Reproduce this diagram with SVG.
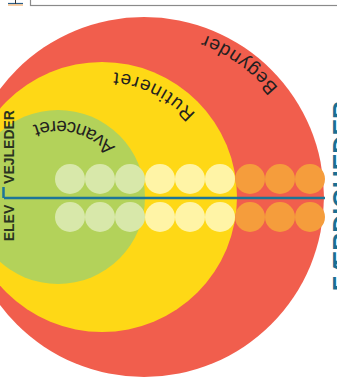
<svg xmlns="http://www.w3.org/2000/svg" width="337" height="378" viewBox="0 0 337 378">
<style>
.lbl{font-family:"Liberation Sans",Arial,sans-serif;font-size:19px;fill:#231f20}
.axis{font-family:"Liberation Sans",Arial,sans-serif;font-weight:bold;font-size:14px;fill:#2a3320}
.big{font-family:"Liberation Sans",Arial,sans-serif;font-weight:bold;font-size:25px;fill:#1b6f92}
.dg{fill:#d8e8aa}
.dy{fill:#fff4a6}
.do{fill:#f59d3c}
.ax{stroke:#1c7598;stroke-width:2.5;fill:none}
</style>
<defs>
<path id="pA" d="M133.77,202.96 A76,76 0 0 0 -11.16,165.5"/>
<path id="pR" d="M221.9,232.5 A125,125 0 0 0 1.5,122.6"/>
<path id="pB" d="M316.2,213.3 A173,173 0 0 0 72,39.6"/>
</defs>
<rect width="337" height="378" fill="#ffffff"/>
<g id="header">
<rect x="30.5" y="-10" width="320" height="15.5" fill="#ffffff" stroke="#8a8a8a" stroke-width="1.2"/>
<line x1="8" y1="3.5" x2="23" y2="3.5" stroke="#2b5f8a" stroke-width="1.2"/>
<line x1="8" y1="5" x2="23" y2="5" stroke="#f0a050" stroke-width="1"/>
<line x1="15.5" y1="0" x2="15.5" y2="4" stroke="#333333" stroke-width="1"/>
</g>
<g id="begynder">
<circle cx="144" cy="197" r="180" fill="#f15e4d"/>
<text class="lbl" letter-spacing="1.5"><textPath href="#pB" startOffset="50%" text-anchor="middle">Begynder</textPath></text>
</g>
<g id="rutineret">
<circle cx="102" cy="197" r="135" fill="#fed816"/>
<text class="lbl" letter-spacing="2"><textPath href="#pR" startOffset="50%" text-anchor="middle">Rutineret</textPath></text>
</g>
<g id="avanceret">
<circle cx="58" cy="197" r="87" fill="#b3d25a"/>
<text class="lbl" letter-spacing="0.7"><textPath href="#pA" startOffset="50%" text-anchor="middle">Avanceret</textPath></text>
</g>
<g id="dots">
<circle class="dg" cx="70" cy="179" r="15"/><circle class="dg" cx="100" cy="179" r="15"/><circle class="dg" cx="130" cy="179" r="15"/>
<circle class="dy" cx="160" cy="179" r="15"/><circle class="dy" cx="190" cy="179" r="15"/><circle class="dy" cx="220" cy="179" r="15"/>
<circle class="do" cx="250" cy="179" r="15"/><circle class="do" cx="280" cy="179" r="15"/><circle class="do" cx="310" cy="179" r="15"/>
<circle class="dg" cx="70" cy="217" r="15"/><circle class="dg" cx="100" cy="217" r="15"/><circle class="dg" cx="130" cy="217" r="15"/>
<circle class="dy" cx="160" cy="217" r="15"/><circle class="dy" cx="190" cy="217" r="15"/><circle class="dy" cx="220" cy="217" r="15"/>
<circle class="do" cx="250" cy="217" r="15"/><circle class="do" cx="280" cy="217" r="15"/><circle class="do" cx="310" cy="217" r="15"/>
</g>
<g id="connectors">
<line class="ax" x1="4" y1="198" x2="325" y2="198"/>
<line class="ax" x1="3.5" y1="187" x2="3.5" y2="198" stroke-width="1.6"/>
</g>
<g id="axis-labels">
<text class="axis" transform="translate(14,147) rotate(-90)" text-anchor="middle">VEJLEDER</text>
<text class="axis" transform="translate(14,223) rotate(-90)" text-anchor="middle">ELEV</text>
<text class="big" transform="translate(351,196) rotate(-90)" text-anchor="middle">FÆRDIGHEDER</text>
</g>
</svg>
